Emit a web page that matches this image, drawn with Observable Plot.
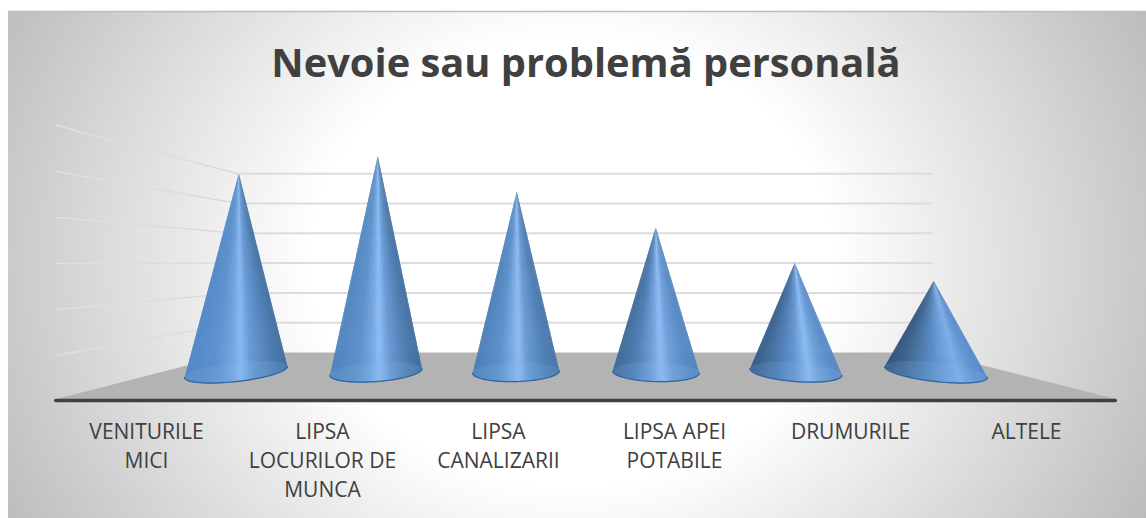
<!DOCTYPE html>
<html>
<head>
<meta charset="utf-8">
<script src="https://cdn.jsdelivr.net/npm/d3@7"></script>
<script src="https://cdn.jsdelivr.net/npm/@observablehq/plot@0.6"></script>
<style>html,body{margin:0;padding:0;background:#fff;overflow:hidden}svg{display:block}</style>
</head>
<body>
<div id="chart"></div>
<script>
const chartTitle = "Nevoie sau problemă personală";
const categories = ["VENITURILE\nMICI", "LIPSA\nLOCURILOR DE\nMUNCA", "LIPSA\nCANALIZARII", "LIPSA APEI\nPOTABILE", "DRUMURILE", "ALTELE"];
const values = [5.5, 6, 5, 4, 3, 2.5];
const gridLevels = [1, 2, 3, 4, 5, 6];

// perspective layout, in scale units (x: one unit per cone, y: one unit per value)
const pxX = 139.4, pxY = 35.7;
const wallX0 = 0, wallX1 = 4.98, frontX0 = -1.3, frontX1 = 6.3;
const labelX0 = -0.653, labelStep = 1.2626;
const backY = k => 0.546 + 0.835 * k;
const leftY = k => -0.826 + 1.289 * k;
const floorFront = -0.76;
const tipLift = 0.05;

// shading stops around each cone: [position across the base, colour]
const coneStops = [
  [[0,"#4f86c6"],[.3,"#5c90ce"],[.46,"#6fa3df"],[.56,"#86b8f2"],[.68,"#6396d2"],[.88,"#4c7cb3"],[1,"#406e9f"]],
  [[0,"#4f82bc"],[.3,"#5b8fcb"],[.46,"#73a6e0"],[.55,"#8cbcf5"],[.68,"#6597d2"],[.88,"#4a79ae"],[1,"#406e9e"]],
  [[0,"#4a7db8"],[.3,"#5b8fcb"],[.46,"#78aae3"],[.55,"#8cbbf3"],[.66,"#6699d4"],[.88,"#4c7db3"],[1,"#4775a8"]],
  [[0,"#3c6896"],[.25,"#4d7db3"],[.46,"#6d9fd9"],[.58,"#8cbcf4"],[.7,"#6b9dd8"],[.9,"#5789c3"],[1,"#5285c0"]],
  [[0,"#345b86"],[.3,"#4c7cb4"],[.5,"#6396d1"],[.66,"#88baf2"],[.78,"#6c9fd9"],[.92,"#5a8cc8"],[1,"#578bc6"]],
  [[0,"#2f5379"],[.25,"#44709f"],[.48,"#5b8dc8"],[.56,"#6598d3"],[.75,"#7aade8"],[.9,"#5e93d0"],[1,"#578bcb"]]
];

const defs = () => {
  const d = d3.create("svg:defs");
  const bg = d.append("radialGradient").attr("id", "bgGrad").attr("gradientUnits", "userSpaceOnUse")
    .attr("cx", 0).attr("cy", 0).attr("r", 1)
    .attr("gradientTransform", "translate(572 262) scale(650 560)");
  [[0,"#ffffff"],[.4,"#ffffff"],[1,"#bbbbbb"]].forEach(([o,c]) => bg.append("stop").attr("offset", o).attr("stop-color", c));
  const w = d.append("linearGradient").attr("id", "wallGrad").attr("gradientUnits", "userSpaceOnUse")
    .attr("x1", 56).attr("x2", 238).attr("y1", 0).attr("y2", 0);
  [[0,"#e2e2e2"],[.5,"#dcdcdc"],[1,"#d6d6d6"]].forEach(([o,c]) => w.append("stop").attr("offset", o).attr("stop-color", c));
  return d.node();
};

const baseOf = i => {
  const u = i - 2.5;
  return {cx: i + u * 0.0043, a: (43 + 1.35 * u * u) / pxX, tilt: u * 2.2 / pxY, b: 9.6 / pxY};
};
const arc = (i, from, to, n = 48) => {
  const {cx, a, tilt, b} = baseOf(i);
  return d3.range(n + 1).map(j => {
    const t = from + (to - from) * j / n;
    return {x: cx + a * Math.cos(t), y: -tilt * Math.cos(t) - b * Math.sin(t)};
  });
};

const coneMarks = values.flatMap((v, i) => {
  const u = i - 2.5;
  const tip = {x: i - u * 0.0029 + 0.002, y: v + tipLift};
  const lower = arc(i, Math.PI, 0);
  const {cx, a} = baseOf(i);
  const shade = d3.scaleLinear(coneStops[i].map(s => s[0]), coneStops[i].map(s => s[1]));
  // a fan of slices from the tip round the base, so the shading converges on the tip;
  // each slice overlaps the next one, and the mark's opacity applies to the whole group
  const fan = lower.slice(0, -1).flatMap((p, s) => {
    const q = lower[Math.min(s + 2, lower.length - 1)];
    const color = shade((lower[s + 1].x - (cx - a)) / (2 * a));
    return [p, q, tip].map(o => ({...o, s, color}));
  });
  return [
    Plot.line(fan, {x: "x", y: "y", z: "s", curve: "linear-closed", fill: "color", stroke: "none", opacity: 0.86}),
    Plot.line(arc(i, 0, 2 * Math.PI, 80), {x: "x", y: "y", curve: "linear-closed", fill: "#8fbcf2", fillOpacity: 0.14, stroke: "none"}),
    Plot.line(arc(i, 0, Math.PI), {x: "x", y: "y", stroke: "#3c6ea8", strokeOpacity: 0.35, strokeWidth: 1}),
    Plot.line(lower, {x: "x", y: "y", stroke: "#2f649e", strokeWidth: 1.2})
  ];
});

const wallLines = gridLevels.flatMap(k => [{k, x: frontX0, y: leftY(k)}, {k, x: wallX0, y: backY(k)}]);
const backLines = gridLevels.flatMap(k => [{k, x: wallX0, y: backY(k)}, {k, x: wallX1, y: backY(k)}]);
const floor = [
  {x: frontX0, y: floorFront}, {x: wallX0, y: backY(0)}, {x: wallX1, y: backY(0)}, {x: frontX1, y: floorFront}
];
const labels = categories.map((c, i) => ({c, x: labelX0 + i * labelStep}));

const chart = Plot.plot({
  width: 1146, height: 518,
  margin: 0,
  style: {background: "#fff", overflow: "hidden"},
  x: {domain: [-1.7, 6.521], range: [0, 1146], axis: null},
  y: {domain: [-4.104, 10.406], range: [518, 0], axis: null},
  marks: [
    defs,
    Plot.rect([0], {x1: -1.643, x2: 6.521, y1: -4.104, y2: 10.098, fill: "url(#bgGrad)"}),
    Plot.ruleY([10.098], {x1: -1.643, x2: 6.521, stroke: "#bdbdbd", strokeWidth: 1.5}),
    Plot.line(wallLines, {x: "x", y: "y", z: "k", stroke: "url(#wallGrad)", strokeWidth: 1.3, strokeDasharray: "2 1"}),
    Plot.line(backLines, {x: "x", y: "y", z: "k", stroke: "#dcdcdc", strokeWidth: 2}),
    Plot.line(floor, {x: "x", y: "y", curve: "linear-closed", fill: "#b3b3b3", stroke: "none"}),
    Plot.ruleY([floorFront - 0.04], {x1: frontX0, x2: frontX1, stroke: "#404040", strokeWidth: 3.6, strokeLinecap: "round"}),
    ...coneMarks,
    Plot.text(labels, {x: "x", y: -1.3, text: "c", lineAnchor: "top", lineHeight: 1.38, textAnchor: "middle",
      fontFamily: "Open Sans", fontSize: 21, fill: "#404040"}),
    Plot.text([chartTitle], {x: 2.5, y: 8.63, text: d => d, textAnchor: "middle", lineAnchor: "middle",
      fontFamily: "Open Sans", fontWeight: 700, fontSize: 39.8, fill: "#404040"})
  ]
});
document.getElementById("chart").append(chart);
</script>
</body>
</html>
